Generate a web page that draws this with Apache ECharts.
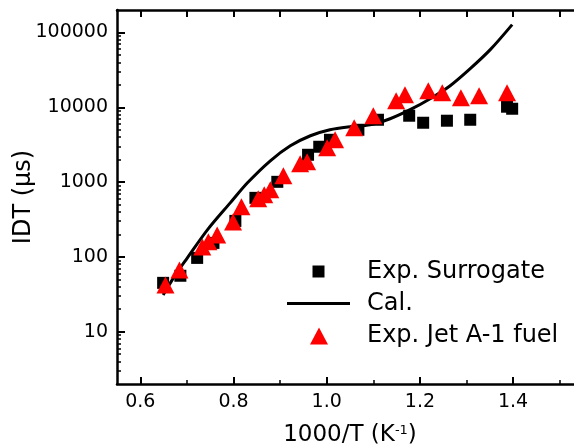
<!DOCTYPE html>
<html>
<head>
<meta charset="utf-8">
<script src="https://cdn.jsdelivr.net/npm/echarts@6/dist/echarts.min.js"></script>
<style>
  html, body { margin: 0; padding: 0; background: #fff; }
  #chart { width: 574px; height: 448px; }
</style>
</head>
<body>
<div id="chart"></div>
<script>
// Ignition delay times: surrogate vs. Jet A-1 measurements and the computed curve
const surrogateX = [0.649, 0.686, 0.722, 0.757, 0.804, 0.847, 0.894, 0.960, 0.984, 1.007, 1.068, 1.110, 1.177, 1.207, 1.258, 1.308, 1.387, 1.398];
const surrogateY = [45, 56, 97, 154, 303, 616, 1009, 2320, 2970, 3680, 5010, 6820, 7720, 6220, 6620, 6820, 10190, 9570];

const jetX = [0.654, 0.684, 0.733, 0.746, 0.765, 0.799, 0.817, 0.853, 0.866, 0.879, 0.907, 0.943, 0.958, 1.001, 1.018, 1.059, 1.100, 1.149, 1.168, 1.218, 1.248, 1.288, 1.327, 1.387];
const jetY = [42, 67, 136, 159, 197, 294, 467, 598, 676, 789, 1214, 1758, 1870, 2878, 3683, 5333, 7720, 12250, 14750, 16680, 15680, 13430, 14300, 15680];

const calX = [0.649, 0.675, 0.701, 0.744, 0.793, 0.830, 0.879, 0.922, 0.965, 1.007, 1.050, 1.093, 1.136, 1.179, 1.222, 1.265, 1.308, 1.351, 1.398];
const calY = [31, 57, 97, 230, 528, 979, 1929, 3062, 4168, 5012, 5500, 5850, 7035, 9290, 13030, 19450, 32880, 59000, 127600];

// Axis ticks and labels
const xMajorTicks = [0.6, 0.8, 1.0, 1.2, 1.4];
const xMinorTicks = [0.7, 0.9, 1.1, 1.3, 1.5];
const xTopTicks = [0.6, 0.7, 0.8, 0.9, 1.0, 1.1, 1.2, 1.3, 1.4, 1.5];
const yMajorTicks = [10, 100, 1000, 10000, 100000];
const yMinorTicks = [];
[1, 10, 100, 1000, 10000, 100000].forEach(function (d) {
  [2, 3, 4, 5, 6, 7, 8, 9].forEach(function (m) {
    const v = m * d;
    if (v > 2 && v < 200000) yMinorTicks.push(v);
  });
});

const FONT = 'DejaVu Sans';
const X_MIN = 0.55, X_MAX = 1.55;
const Y_MIN = 2, Y_MAX = 200000;

function zip(xs, ys) { return xs.map(function (x, i) { return [x, ys[i]]; }); }

const frameLine = { show: true, onZero: false, lineStyle: { color: '#000', width: 2.5 } };
const noLine = { show: false };

function xAxisCfg(position, ticks, len, width, withLine, extra) {
  return Object.assign({
    type: 'value', min: X_MIN, max: X_MAX, position: position,
    axisLine: withLine ? frameLine : noLine,
    axisTick: { show: true, inside: true, length: len, customValues: ticks, lineStyle: { color: '#000', width: width } },
    axisLabel: { show: false },
    splitLine: { show: false }
  }, extra || {});
}

function yAxisCfg(position, ticks, len, width, withLine, extra) {
  return Object.assign({
    type: 'log', logBase: 10, min: Y_MIN, max: Y_MAX, position: position,
    axisLine: withLine ? frameLine : noLine,
    axisTick: { show: true, inside: true, length: len, customValues: ticks, lineStyle: { color: '#000', width: width } },
    axisLabel: { show: false },
    splitLine: { show: false }
  }, extra || {});
}

const chart = echarts.init(document.getElementById('chart'));

const legendText = { fontFamily: FONT, fontSize: 24, color: '#000' };

chart.setOption({
  animation: false,
  backgroundColor: '#fff',
  grid: { left: 117, top: 10, width: 466, height: 374, containLabel: false, outerBoundsMode: 'none' },
  xAxis: [
    xAxisCfg('bottom', xMajorTicks, 7, 2, true, {
      axisLabel: {
        show: true, customValues: xMajorTicks, margin: 9,
        fontFamily: FONT, fontSize: 19, color: '#000',
        formatter: function (v) { return v.toFixed(1); }
      },
      name: '1000/T (K{sup|-1})',
      nameLocation: 'middle', nameGap: 40, nameMoveOverlap: false,
      nameTextStyle: {
        fontFamily: FONT, fontSize: 23, color: '#000',
        rich: { sup: { fontFamily: FONT, fontSize: 13, color: '#000', verticalAlign: 'top' } }
      }
    }),
    xAxisCfg('bottom', xMinorTicks, 4, 1.5, false),
    xAxisCfg('top', xTopTicks, 7, 2, true)
  ],
  yAxis: [
    yAxisCfg('left', yMajorTicks, 8, 2, true, {
      axisLabel: {
        show: true, customValues: yMajorTicks, margin: 9,
        fontFamily: FONT, fontSize: 19, color: '#000',
        formatter: function (v) { return String(Math.round(v)); }
      },
      name: 'IDT (\u03bcs)',
      nameLocation: 'middle', nameGap: 81, nameMoveOverlap: false,
      nameTextStyle: { fontFamily: FONT, fontSize: 24, color: '#000' }
    }),
    yAxisCfg('left', yMinorTicks, 4, 1.5, false),
    yAxisCfg('right', yMajorTicks, 8, 2, true),
    yAxisCfg('right', yMinorTicks, 4, 1.5, false)
  ],
  legend: [
    {
      data: ['Exp. Surrogate'], left: 312.5, top: 259.5, padding: 0,
      icon: 'rect', itemWidth: 12, itemHeight: 12, selectedMode: false,
      textStyle: Object.assign({ padding: [0, 0, 0, 37.5] }, legendText)
    },
    {
      data: ['Cal.'], left: 287, top: 291.5, padding: 0,
      icon: 'rect', itemWidth: 63, itemHeight: 3, selectedMode: false,
      textStyle: Object.assign({ padding: [0, 0, 0, 12] }, legendText)
    },
    {
      data: ['Exp. Jet A-1 fuel'], left: 310, top: 324, padding: 0,
      icon: 'triangle', itemWidth: 18, itemHeight: 17, selectedMode: false,
      textStyle: Object.assign({ padding: [0, 0, 0, 34] }, legendText)
    }
  ],
  series: [
    {
      name: 'Exp. Surrogate', type: 'scatter', xAxisIndex: 0, yAxisIndex: 0,
      symbol: 'rect', symbolSize: 12,
      itemStyle: { color: '#000', opacity: 1 },
      data: zip(surrogateX, surrogateY), z: 2
    },
    {
      name: 'Cal.', type: 'line', xAxisIndex: 0, yAxisIndex: 0,
      smooth: 0.3, symbol: 'none', showSymbol: false,
      lineStyle: { color: '#000', width: 3 },
      itemStyle: { color: '#000' },
      data: zip(calX, calY), z: 3
    },
    {
      name: 'Exp. Jet A-1 fuel', type: 'scatter', xAxisIndex: 0, yAxisIndex: 0,
      symbol: 'triangle', symbolSize: [18, 17],
      itemStyle: { color: '#ff0000', opacity: 1 },
      data: zip(jetX, jetY), z: 4
    }
  ]
});
</script>
</body>
</html>
